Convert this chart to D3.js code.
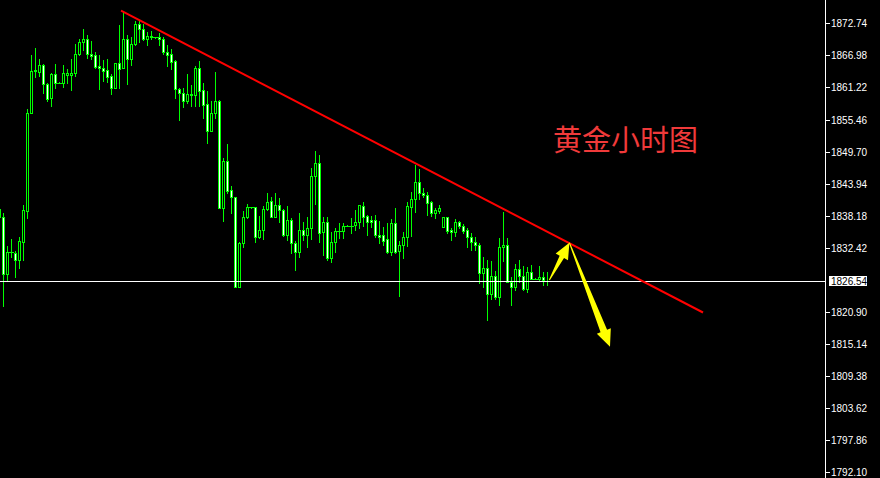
<!DOCTYPE html>
<html><head><meta charset="utf-8">
<script src="https://cdn.jsdelivr.net/npm/d3@7/dist/d3.min.js"></script>
<style>html,body{margin:0;padding:0;background:#000;overflow:hidden}</style>
</head><body>
<svg id="chart" width="880" height="478"></svg>
<script>
// candle index -1 .. 136 (hourly gold)
const idx = d3.range(-1, 137);
const open = [1838.0,1837.9,1827.8,1831.6,1831.4,1830.3,1833.5,1839.1,1856.6,1864.3,1864.0,1865.2,1861.8,1859.4,1863.6,1862.1,1862.1,1863.5,1863.5,1863.8,1867.2,1869.3,1869.9,1867.2,1867.0,1865.1,1864.8,1864.4,1863.3,1861.2,1865.6,1864.7,1869.9,1866.3,1869.1,1872.6,1871.7,1870.0,1870.4,1870.2,1870.2,1869.9,1867.6,1867.2,1866.0,1860.9,1860.3,1858.8,1860.0,1859.9,1864.7,1860.8,1858.2,1853.4,1856.7,1858.8,1839.6,1848.0,1842.8,1841.6,1825.3,1833.2,1837.9,1839.7,1839.7,1834.3,1835.6,1839.3,1840.8,1837.9,1840.1,1839.2,1834.7,1837.4,1833.2,1831.7,1835.7,1834.8,1835.9,1845.3,1847.6,1835.3,1837.0,1830.5,1833.4,1835.4,1835.4,1836.4,1836.4,1836.5,1837.0,1840.0,1838.1,1837.4,1837.4,1834.7,1834.7,1834.0,1831.7,1836.8,1831.9,1832.9,1834.4,1839.7,1841.1,1844.3,1842.2,1841.9,1840.6,1838.6,1839.1,1836.1,1837.9,1835.6,1835.2,1837.0,1836.3,1835.6,1834.3,1833.5,1833.0,1827.9,1828.8,1824.2,1827.3,1823.6,1832.5,1833.0,1826.2,1825.3,1828.7,1827.4,1825.1,1828.0,1826.9,1826.9,1827.2,1826.4];
const high = [1839.6,1838.7,1832.7,1834.0,1831.8,1834.3,1840.1,1857.3,1867.0,1868.3,1866.3,1865.4,1862.0,1863.8,1865.4,1862.2,1865.2,1864.5,1866.3,1869.1,1870.0,1871.7,1870.6,1869.6,1867.6,1867.0,1866.1,1866.4,1863.6,1865.6,1872.4,1875.0,1870.6,1870.2,1873.2,1873.2,1872.6,1871.2,1871.4,1870.3,1871.0,1870.2,1868.8,1868.2,1866.1,1861.1,1861.2,1863.6,1861.7,1865.1,1866.0,1862.0,1860.6,1858.8,1864.0,1859.0,1848.5,1851.1,1843.5,1841.6,1833.5,1839.0,1840.3,1839.8,1839.8,1838.1,1839.9,1842.3,1841.6,1842.2,1841.3,1839.4,1839.9,1837.7,1833.6,1838.7,1837.1,1838.0,1846.7,1849.8,1849.1,1837.9,1837.9,1835.3,1835.9,1836.8,1836.8,1836.5,1837.7,1839.2,1840.1,1840.7,1838.3,1838.1,1838.3,1837.2,1836.2,1836.8,1837.6,1839.5,1833.6,1835.3,1840.7,1842.5,1847.3,1846.6,1843.1,1842.4,1840.8,1839.5,1840.1,1837.9,1837.9,1835.9,1837.6,1837.2,1836.7,1835.9,1835.0,1834.3,1833.3,1830.7,1830.3,1830.1,1828.3,1834.1,1838.9,1834.1,1827.2,1829.5,1830.2,1829.1,1828.9,1829.3,1827.0,1829.1,1828.1,1828.1];
const low = [1837.6,1822.0,1826.5,1830.8,1827.2,1828.8,1830.2,1837.8,1856.6,1863.1,1863.3,1860.3,1858.8,1857.8,1861.2,1862.0,1861.3,1862.1,1860.8,1863.3,1867.0,1867.9,1866.5,1866.3,1864.7,1860.9,1862.4,1862.2,1860.0,1861.2,1861.2,1864.7,1861.8,1865.2,1868.8,1869.3,1869.7,1868.8,1869.9,1870.1,1868.8,1867.2,1865.1,1864.5,1859.4,1855.4,1857.7,1858.5,1857.9,1857.8,1857.9,1855.8,1851.3,1853.4,1855.8,1839.6,1837.3,1842.3,1838.7,1825.3,1825.3,1832.5,1837.7,1839.6,1833.5,1834.1,1834.0,1839.2,1837.9,1837.9,1837.1,1834.6,1833.8,1831.5,1828.4,1830.7,1833.8,1832.5,1834.0,1840.3,1833.5,1831.2,1830.2,1829.9,1831.7,1834.2,1834.2,1836.3,1835.1,1835.7,1835.9,1836.3,1834.7,1836.1,1834.4,1833.2,1832.9,1831.4,1831.1,1831.5,1823.8,1830.5,1832.7,1834.5,1838.9,1841.1,1841.6,1838.4,1838.1,1837.7,1838.6,1836.1,1835.1,1833.9,1834.5,1835.9,1835.0,1832.6,1832.0,1832.0,1826.1,1825.3,1819.5,1823.3,1823.3,1822.1,1830.1,1826.2,1822.1,1824.8,1826.3,1824.9,1824.4,1826.8,1826.8,1826.6,1825.7,1825.7];
const close = [1839.4,1827.8,1831.6,1831.7,1830.3,1833.6,1839.2,1856.6,1864.2,1864.2,1865.2,1861.8,1859.1,1863.6,1862.1,1862.1,1863.8,1863.9,1863.9,1867.3,1869.3,1869.9,1867.2,1866.9,1864.9,1864.8,1864.2,1863.1,1861.2,1865.6,1864.5,1869.9,1866.3,1869.1,1872.6,1871.7,1870.0,1870.5,1870.3,1870.2,1869.9,1867.6,1867.0,1865.8,1860.9,1860.3,1858.8,1860.0,1859.9,1864.7,1860.6,1858.1,1853.4,1856.7,1858.8,1839.6,1848.0,1842.7,1841.6,1825.3,1833.2,1837.9,1839.7,1839.7,1834.3,1835.6,1839.3,1840.6,1837.9,1840.1,1839.2,1834.7,1837.4,1833.2,1831.7,1835.7,1834.8,1835.9,1845.3,1847.6,1835.1,1837.1,1830.5,1833.4,1835.4,1835.4,1836.4,1836.4,1836.4,1837.0,1840.1,1838.0,1837.0,1837.0,1834.7,1834.4,1833.7,1831.7,1836.8,1831.7,1832.9,1834.4,1839.9,1841.1,1844.3,1842.2,1841.9,1840.4,1838.6,1839.2,1839.5,1837.9,1835.5,1835.2,1837.0,1836.3,1835.5,1834.3,1833.4,1833.0,1827.9,1828.8,1824.2,1827.3,1823.6,1832.5,1833.0,1826.2,1825.3,1828.7,1827.4,1825.1,1828.0,1826.9,1826.9,1827.2,1826.6,1826.54];

const tickValues = [1872.74,1866.98,1861.22,1855.46,1849.70,1843.94,1838.18,1832.42,1820.90,1815.14,1809.38,1803.62,1797.86,1792.10];
const currentPrice = 1826.54;
const trendIdx = [29.5, 175];
const trendPrice = [1875.0, 1820.8];
const arrowUp = {from: [136.6, 1826.63], to: [141.6, 1833.33]};
const arrowDown = {from: [141.6, 1833.33], to: [151.75, 1814.65]};
const title = "黄金小时图";

const svg = d3.select("#chart");
const W = 880, H = 478;
svg.append("rect").attr("width", W).attr("height", H).attr("fill", "#000");

const x = d3.scaleLinear().domain([-1, 136]).range([-1, 547]);
const y = d3.scaleLinear().domain([1792.10, 1872.74]).range([472.3, 23.3]);
const LIME = "#00ff00";

const data = idx.map((d, i) => ({i: d, o: open[i], h: high[i], l: low[i], c: close[i]}));
const g = svg.append("g");

// wicks
g.selectAll("line.wick").data(data).join("line")
  .attr("x1", d => Math.round(x(d.i)) + 0.5).attr("x2", d => Math.round(x(d.i)) + 0.5)
  .attr("y1", d => Math.round(y(d.h))).attr("y2", d => Math.round(y(d.l)) + 1)
  .attr("stroke", LIME).attr("stroke-width", 1);

// bodies
data.forEach(d => {
  const cx = Math.round(x(d.i));
  const top = Math.round(y(Math.max(d.o, d.c)));
  const bot = Math.round(y(Math.min(d.o, d.c)));
  if (bot - top < 1) {
    g.append("line").attr("x1", cx - 2).attr("x2", cx + 3)
      .attr("y1", top + 0.5).attr("y2", top + 0.5)
      .attr("stroke", LIME).attr("stroke-width", 1);
  } else {
    g.append("rect").attr("x", cx - 0.5).attr("y", top + 0.5)
      .attr("width", 2).attr("height", bot - top)
      .attr("fill", d.c >= d.o ? "#000" : "#fff")
      .attr("stroke", LIME).attr("stroke-width", 1);
  }
});

// current price line
const py = Math.round(y(currentPrice)) + 0.5;
svg.append("line").attr("x1", 0).attr("x2", 825).attr("y1", py).attr("y2", py)
  .attr("stroke", "#fff").attr("stroke-width", 1);

// trend line
svg.append("line")
  .attr("x1", x(trendIdx[0])).attr("y1", y(trendPrice[0]))
  .attr("x2", x(trendIdx[1])).attr("y2", y(trendPrice[1]))
  .attr("stroke", "#ff0000").attr("stroke-width", 2);

// arrows
function arrowPath(a, tailW, shaftW, headW, headLen) {
  const t = [x(a.from[0]), y(a.from[1])], p = [x(a.to[0]), y(a.to[1])];
  const dx = p[0] - t[0], dy = p[1] - t[1], L = Math.hypot(dx, dy);
  const ux = dx / L, uy = dy / L, nx = -uy, ny = ux;
  const b = [p[0] - ux * headLen, p[1] - uy * headLen];
  const pts = [
    [t[0] + nx * tailW / 2, t[1] + ny * tailW / 2],
    [b[0] + nx * shaftW / 2, b[1] + ny * shaftW / 2],
    [b[0] + nx * headW / 2, b[1] + ny * headW / 2],
    p,
    [b[0] - nx * headW / 2, b[1] - ny * headW / 2],
    [b[0] - nx * shaftW / 2, b[1] - ny * shaftW / 2],
    [t[0] - nx * tailW / 2, t[1] - ny * tailW / 2]
  ];
  return d3.line()(pts) + "Z";
}
svg.append("path").attr("d", arrowPath(arrowUp, 1, 5, 14, 16)).attr("fill", "#ffff00");
svg.append("path").attr("d", arrowPath(arrowDown, 1, 7, 15, 17)).attr("fill", "#ffff00");

// title
svg.append("text").attr("x", 553).attr("y", 151)
  .attr("font-family", "'Noto Sans CJK SC', sans-serif").attr("font-size", 29)
  .attr("fill", "#f03a3a").text(title);

// right axis
svg.append("line").attr("x1", 825.5).attr("x2", 825.5).attr("y1", 0).attr("y2", H)
  .attr("stroke", "#fff").attr("stroke-width", 1);
const axis = svg.append("g");
tickValues.forEach(v => {
  const ty = Math.round(y(v)) + 0.5;
  axis.append("line").attr("x1", 826).attr("x2", 830).attr("y1", ty).attr("y2", ty)
    .attr("stroke", "#fff").attr("stroke-width", 1);
  axis.append("text").attr("x", 831).attr("y", ty).attr("dy", "0.35em")
    .attr("font-family", "'Liberation Sans', Arial, sans-serif").attr("font-size", 10)
    .attr("fill", "#fff").text(v.toFixed(2));
});
// current price label
axis.append("rect").attr("x", 829).attr("y", py - 5.5).attr("width", 38).attr("height", 10)
  .attr("fill", "#fff");
axis.append("text").attr("x", 831).attr("y", py).attr("dy", "0.35em")
  .attr("font-family", "'Liberation Sans', Arial, sans-serif").attr("font-size", 10)
  .attr("fill", "#000").text(currentPrice.toFixed(2));
</script>
</body></html>
